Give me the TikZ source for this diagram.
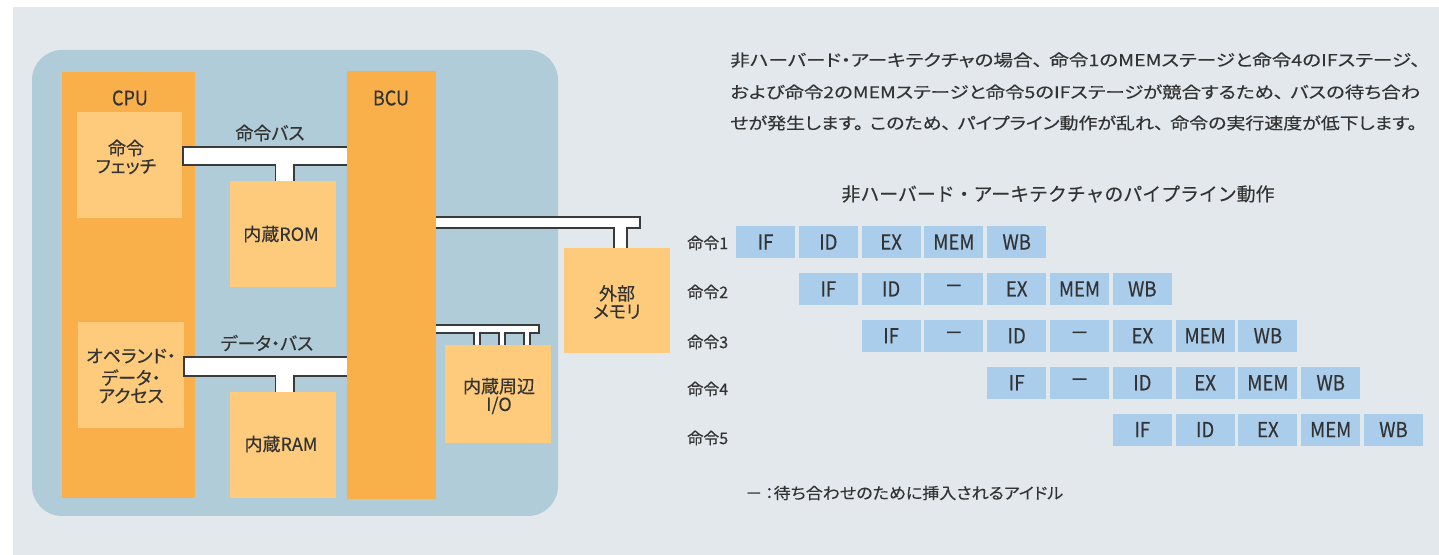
\documentclass[tikz,border=0pt]{standalone}
\usepackage{fontspec}
\setmainfont[FakeBold=0.3]{Noto Sans CJK JP}
\newfontfamily\cond[FakeStretch=0.9,FakeBold=0.3]{Noto Sans CJK JP}
\newfontfamily\prop[RawFeature=+palt,FakeBold=0.3]{Noto Sans CJK JP}
\usetikzlibrary{fit}
\definecolor{bgc}{HTML}{E2E8EC}
\definecolor{chipc}{HTML}{B0CCD8}
\definecolor{orng}{HTML}{F9B04B}
\definecolor{lorng}{HTML}{FDCB7B}
\definecolor{cellc}{HTML}{AACDEB}
\definecolor{txt}{HTML}{333333}
\definecolor{busline}{HTML}{3A3A3A}
\newcommand{\fitw}[2]{\resizebox{#1}{\height}{#2}}
\newcommand{\fsz}[1]{\fontsize{#1}{#1}\selectfont}
\newcommand{\ts}{\hspace{0.35em}}
\begin{document}
\begin{tikzpicture}[x=0.75pt,y=-0.75pt,
  blk/.style={inner sep=0pt, outer sep=0pt, draw=none, fit={#1}},
  lbl/.style={text=txt, inner sep=0pt, align=center},
  jl/.style={lbl, font=\prop\fsz{13.5}},
  bus/.style={fill=white, draw=busline, line width=0.8pt, line join=miter},
  cell/.style={fill=cellc, text=txt, inner sep=0pt, minimum width=44.25pt, minimum height=24pt, font=\cond\fsz{15.5}},
  rowlbl/.style={text=txt, inner sep=0pt, anchor=west, font=\prop\fsz{12}}]
\useasboundingbox (0,0) rectangle (1439,555);
\fill[white] (0,0) rectangle (1439,555);
\fill[bgc] (13,7) rectangle (1439,555);
% chip
\node[blk={(32,50)(558,516)}, fill=chipc, rounded corners=22.5pt] (chip) {};
% CPU
\node[blk={(62,72)(195,498)}, fill=orng] (cpu) {};
\node[lbl, font=\cond\fsz{15}] (cpulbl) at (130,98) {CPU};
\node[blk={(77,112)(182,218)}, fill=lorng] (fetch) {};
\node[jl, text width=70pt] (fetchlbl) at (126,157) {\baselineskip=16pt 命令\\フェッチ};
\node[blk={(78,322)(184,428)}, fill=lorng] (oper) {};
\node[jl, text width=80pt] (operlbl) at (131,376) {\baselineskip=16.5pt オペランド・\\データ・\\アクセス};
% buses
\draw[bus] (183,147) -- (352,147) -- (352,165) -- (294,165) -- (294,184) -- (275.5,184) -- (275.5,165) -- (183,165) -- cycle;
\draw[bus] (184,357) -- (352,357) -- (352,376) -- (294,376) -- (294,395) -- (275.5,395) -- (275.5,376) -- (184,376) -- cycle;
\draw[bus] (430,217) -- (640,217) -- (640,228) -- (627,228) -- (627,251) -- (614,251) -- (614,228) -- (430,228) -- cycle;
\draw[bus] (430,325) -- (539,325) -- (539,333) -- (530,333) -- (530,348) -- (524,348) -- (524,333) -- (505,333) -- (505,348) -- (499,348) -- (499,333) -- (480,333) -- (480,348) -- (474,348) -- (474,333) -- (430,333) -- cycle;
\node[jl] (ibuslbl) at (270,133) {命令バス};
\node[jl] (dbuslbl) at (267,343) {データ・バス};
% memories
\node[blk={(230,181)(336,287)}, fill=lorng] (rom) {};
\node[jl] (romlbl) at (281,234) {内蔵ROM};
\node[blk={(230,392)(336,498)}, fill=lorng] (ram) {};
\node[jl] (ramlbl) at (281,444) {内蔵RAM};
% BCU
\node[blk={(347,71)(436,499)}, fill=orng] (bcu) {};
\node[lbl, font=\cond\fsz{15}] (bculbl) at (391,98) {BCU};
\node[blk={(445,345)(551,443)}, fill=lorng] (io) {};
\node[jl, text width=70pt] (iolbl) at (499,396) {\baselineskip=16pt 内蔵周辺\\I/O};
\node[blk={(564,248)(670,353)}, fill=lorng] (extmem) {};
\node[jl, text width=70pt] (extlbl) at (617,302) {\baselineskip=15pt 外部\\メモリ};
% paragraph
\node[lbl, anchor=west, font=\prop\fsz{12.2}] (p1) at (730,60) {\fitw{517.5pt}{非ハーバード・アーキテクチャの場合、\ts 命令1のMEMステージと命令4のIFステージ、}};
\node[lbl, anchor=west, font=\prop\fsz{12.2}] (p2) at (730,92) {\fitw{517.5pt}{および命令2のMEMステージと命令5のIFステージが競合するため、\ts バスの待ち合わ}};
\node[lbl, anchor=west, font=\prop\fsz{12.2}] (p3) at (730,123) {\fitw{515pt}{せが発生します。\ts このため、\ts パイプライン動作が乱れ、\ts 命令の実行速度が低下します。}};
\node[lbl, font=\fsz{14}] (title) at (1058,194) {\fitw{324.75pt}{非ハーバード・アーキテクチャのパイプライン動作}};
% pipeline
\foreach \r/\c/\lst in {0/0/{IF,ID,EX,MEM,WB},1/1/{IF,ID,－,EX,MEM,WB},2/2/{IF,－,ID,－,EX,MEM,WB},3/4/{IF,－,ID,EX,MEM,WB},4/6/{IF,ID,EX,MEM,WB}}{
  \foreach \s [count=\k from 0] in \lst {
    \node[cell] (c\r-\k) at ({736+(\c+\k)*62.8+29.5},{226+\r*46.9+16}) {\s};
  }
}
\node[rowlbl] (r1) at (687,243) {命令1};
\node[rowlbl] (r2) at (687,292) {命令2};
\node[rowlbl] (r3) at (687,342) {命令3};
\node[rowlbl] (r4) at (687,389) {命令4};
\node[rowlbl] (r5) at (687,438) {命令5};
\node[lbl, anchor=west, font=\prop\fsz{11.8}] (legend) at (745,493) {\fitw{238.5pt}{－\,：待ち合わせのために挿入されるアイドル}};
\end{tikzpicture}
\end{document}
